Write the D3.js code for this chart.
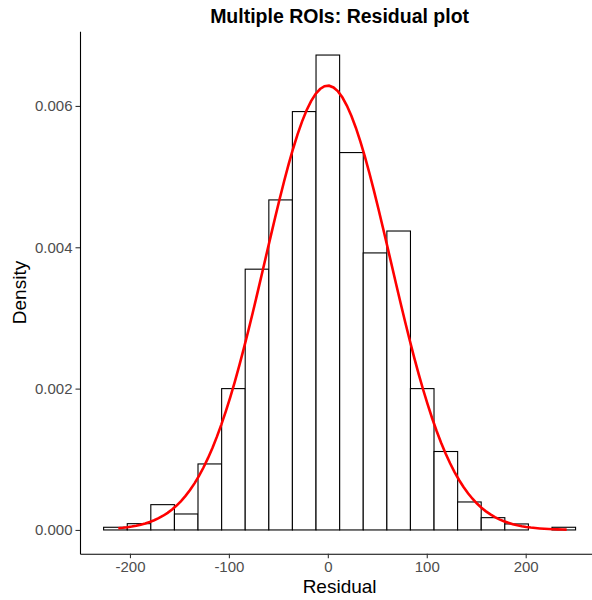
<!DOCTYPE html>
<html>
<head>
<meta charset="utf-8">
<script src="https://cdn.jsdelivr.net/npm/d3@7"></script>
<style>
  html, body { margin: 0; padding: 0; background: #fff; }
  svg { display: block; }
  text { font-family: "Liberation Sans", Arial, Helvetica, sans-serif; }
</style>
</head>
<body>
<svg id="chart" width="592" height="600"></svg>
<script>
// Histogram of residuals (density scale), 20 bins of equal width
const binWidth = 23.85;
const binCenters = [-214.7, -190.8, -167.0, -143.1, -119.3, -95.4, -71.6, -47.7, -23.9, 0.0,
                    23.9, 47.7, 71.6, 95.4, 119.3, 143.1, 167.0, 190.8, 214.7, 238.5];
const densities = [0.000038, 0.000089, 0.000358, 0.000226, 0.000934, 0.00200, 0.00369, 0.00467, 0.00592, 0.00672,
                   0.00534, 0.00392, 0.00423, 0.00200, 0.00111, 0.000396, 0.000174, 0.000085, 0.0, 0.000038];

// Fitted normal curve over the residual range
const residualMin = -211.8;
const residualMax = 241.4;
const fitMean = 0.0;
const fitSd = 63.45;

// Axis ticks
const xTicks = [-200, -100, 0, 100, 200];
const yTicks = [0, 0.002, 0.004, 0.006];

const svg = d3.select("#chart");

const panel = { left: 80, right: 599.2, top: 31.3, bottom: 553.7 };

const x = d3.scaleLinear().domain([-250.5, 274.3]).range([panel.left, panel.right]);
const y = d3.scaleLinear().domain([-0.000336, 0.007056]).range([panel.bottom, panel.top]);

// Bars
svg.append("g")
  .selectAll("rect")
  .data(binCenters.map((c, i) => ({ c, d: densities[i] })))
  .join("rect")
  .attr("x", d => x(d.c - binWidth / 2))
  .attr("y", d => y(d.d))
  .attr("width", d => x(d.c + binWidth / 2) - x(d.c - binWidth / 2))
  .attr("height", d => y(0) - y(d.d))
  .attr("fill", "#fff")
  .attr("stroke", "#000")
  .attr("stroke-width", 1.1);

// Normal density curve
const dnorm = v => Math.exp(-0.5 * ((v - fitMean) / fitSd) ** 2) / (fitSd * Math.sqrt(2 * Math.PI));
const curvePts = d3.range(0, 101).map(i => {
  const v = residualMin + (residualMax - residualMin) * i / 100;
  return [v, dnorm(v)];
});
svg.append("path")
  .datum(curvePts)
  .attr("fill", "none")
  .attr("stroke", "#ff0000")
  .attr("stroke-width", 2.6)
  .attr("d", d3.line().x(d => x(d[0])).y(d => y(d[1])));

// Axes
const xAxis = svg.append("g")
  .attr("transform", `translate(0,${panel.bottom})`)
  .call(d3.axisBottom(x).tickValues(xTicks).tickFormat(d => String(d))
    .tickSize(4.5).tickPadding(3).tickSizeOuter(0));
const yAxis = svg.append("g")
  .attr("transform", `translate(${panel.left},0)`)
  .call(d3.axisLeft(y).tickValues(yTicks).tickFormat(d => d.toFixed(3))
    .tickSize(4.5).tickPadding(3).tickSizeOuter(0));

[xAxis, yAxis].forEach(g => {
  g.select(".domain").attr("stroke", "#000").attr("stroke-width", 1.1);
  g.selectAll(".tick line").attr("stroke", "#333").attr("stroke-width", 1.1);
  g.selectAll(".tick text").attr("fill", "#4d4d4d").style("font-size", "15px")
    .style("font-family", "'Liberation Sans', Arial, Helvetica, sans-serif");
});

// Titles
svg.append("text")
  .attr("x", (panel.left + panel.right) / 2)
  .attr("y", 23)
  .attr("text-anchor", "middle")
  .style("font-size", "19.5px")
  .style("font-weight", "bold")
  .text("Multiple ROIs: Residual plot");

svg.append("text")
  .attr("x", (panel.left + panel.right) / 2)
  .attr("y", 593)
  .attr("text-anchor", "middle")
  .style("font-size", "19px")
  .text("Residual");

svg.append("text")
  .attr("transform", `translate(26,${(panel.top + panel.bottom) / 2}) rotate(-90)`)
  .attr("text-anchor", "middle")
  .style("font-size", "19px")
  .text("Density");
</script>
</body>
</html>
